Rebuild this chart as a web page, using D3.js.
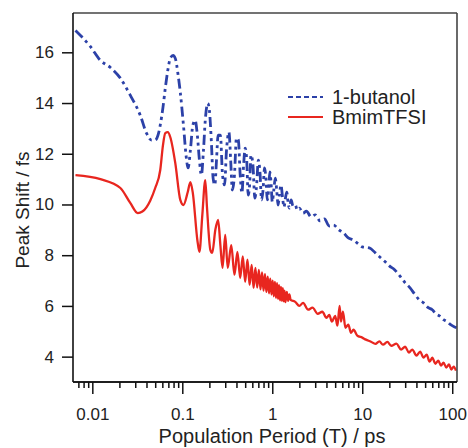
<!DOCTYPE html>
<html>
<head>
<meta charset="utf-8">
<script src="https://cdn.jsdelivr.net/npm/d3@7"></script>
<style>
  html, body { margin: 0; padding: 0; background: #fff; }
  svg { display: block; font-family: "Liberation Sans", Arial, sans-serif; }
</style>
</head>
<body>
<svg id="chart" width="468" height="448"></svg>
<script>
// ---- Data ----
const seriesNames = ["1-butanol", "BmimTFSI"];

const butanolT = [0.0065,0.0095,0.0123,0.0159,0.0205,0.0264,0.0341,0.040,0.0455,0.050,0.0545,0.0569,0.061,0.0647,0.069,0.0736,0.079,0.0836,0.090,0.095,0.103,0.110,0.116,0.123,0.131,0.139,0.147,0.155,0.163,0.172,0.180,0.192,0.20,0.21,0.22,0.23,0.24,0.25,0.265,0.28,0.295,0.31,0.33,0.345,0.36,0.38,0.40,0.42,0.44,0.46,0.48,0.50,0.52,0.54,0.56,0.58,0.61,0.64,0.67,0.70,0.73,0.76,0.79,0.82,0.85,0.88,0.91,0.94,0.97,1.00,1.04,1.08,1.12,1.16,1.20,1.25,1.30,1.35,1.40,1.45,1.50,1.55,1.62,1.70,1.80,1.9,2.0,2.2,2.4,2.7,3.0,3.4,3.8,4.3,4.8,5.5,6.2,7.0,8.0,9.0,10,12,14,16,18,20,23,26,30,34,38,43,48,54,60,66,72,80,88,96,105,112];
const butanolShift = [16.86,16.23,15.68,15.40,14.98,14.31,13.52,12.81,12.54,12.54,12.81,13.13,13.83,14.58,15.29,15.76,15.88,15.76,15.09,14.42,13.13,11.95,11.44,12.14,13.13,13.32,12.73,11.75,11.16,12.14,13.32,13.99,13.72,12.54,11.04,10.77,11.75,12.73,12.73,11.16,10.77,12.14,12.85,11.75,10.57,11.16,12.62,12.54,11.16,10.45,11.55,12.22,11.75,10.37,10.77,11.95,11.55,10.25,10.77,11.75,11.28,10.18,10.57,11.44,11.04,10.18,10.57,11.28,10.84,10.10,10.57,11.04,10.57,9.98,10.37,10.77,10.29,9.90,10.25,10.49,10.06,9.86,10.18,9.94,9.98,9.78,9.86,9.66,9.74,9.51,9.59,9.35,9.43,9.15,9.19,9.00,8.88,8.68,8.60,8.45,8.33,8.29,8.09,7.90,7.74,7.58,7.42,7.19,6.91,6.71,6.48,6.24,6.12,5.93,5.85,5.69,5.61,5.46,5.38,5.26,5.18,5.14];

const bmimT = [0.0065,0.0123,0.0205,0.0264,0.032,0.036,0.044,0.050,0.0569,0.061,0.0647,0.069,0.0736,0.0836,0.095,0.103,0.115,0.123,0.131,0.147,0.155,0.167,0.180,0.188,0.205,0.215,0.233,0.25,0.265,0.28,0.30,0.32,0.35,0.38,0.41,0.44,0.47,0.50,0.53,0.56,0.59,0.62,0.65,0.68,0.71,0.74,0.77,0.80,0.83,0.86,0.89,0.92,0.95,0.98,1.01,1.04,1.07,1.10,1.13,1.16,1.19,1.22,1.25,1.28,1.31,1.34,1.37,1.40,1.45,1.50,1.55,1.6,1.8,2.0,2.2,2.5,2.8,3.2,3.6,4.0,4.3,4.6,5.0,5.3,5.6,5.8,6.1,6.5,7.0,7.5,8.0,8.8,10,11,12.5,14,15.5,17,19,21,24,27,30,33,36,40,44,48,52,56,60,65,70,75,80,86,92,98,104,110];
const bmimShift = [11.16,11.00,10.65,10.06,9.66,9.72,10.15,10.65,11.36,12.34,12.81,12.85,12.65,11.63,10.18,9.98,10.49,10.88,10.45,8.60,8.13,9.59,10.96,9.90,8.21,8.09,9.00,9.39,8.40,7.50,8.80,7.50,8.40,7.23,8.13,7.10,7.95,6.95,7.82,6.83,7.62,6.71,7.50,6.72,7.42,6.65,7.32,6.60,7.25,6.55,7.15,6.50,7.08,6.45,7.00,6.38,6.95,6.32,6.90,6.28,6.82,6.22,6.75,6.20,6.70,6.18,6.60,6.15,6.55,6.20,6.45,6.24,6.16,6.00,6.12,5.85,5.93,5.69,5.77,5.53,5.65,5.38,5.61,5.22,6.00,5.38,5.77,5.14,5.26,4.94,5.06,4.83,4.75,4.67,4.59,4.50,4.60,4.47,4.58,4.43,4.51,4.28,4.39,4.16,4.28,4.04,4.20,3.96,4.08,3.80,3.96,3.72,3.84,3.65,3.76,3.57,3.69,3.49,3.61,3.45];

const yTicks = [4, 6, 8, 10, 12, 14, 16];
const xMajorTicks = [0.01, 0.1, 1, 10, 100];
const xTickLabels = ["0.01", "0.1", "1", "10", "100"];
const xLabel = "Population Period (T) / ps";
const yLabel = "Peak Shift / fs";

// ---- Layout ----
const svg = d3.select("#chart");
const L = 73, R = 457, T = 13, B = 382;

const x = d3.scaleLog().domain([0.0061, 113]).range([L, R]);
const y = d3.scaleLinear().domain([3.0, 17.55]).range([B, T]);

// minor ticks
const xMinor = [];
for (let e = -3; e <= 2; e++) {
  for (let m = 2; m <= 9; m++) {
    const v = m * Math.pow(10, e);
    if (v >= 0.0061 && v <= 113) xMinor.push(v);
  }
}

// clip
svg.append("defs").append("clipPath").attr("id", "clip")
  .append("rect").attr("x", L).attr("y", T).attr("width", R - L).attr("height", B - T);

// curves
const line = d3.line().x(d => x(d[0])).y(d => y(d[1])).curve(d3.curveMonotoneX);
const blueData = butanolT.map((t, i) => [t, butanolShift[i]]);
const redData = bmimT.map((t, i) => [t, bmimShift[i]]);

const g = svg.append("g").attr("clip-path", "url(#clip)");
g.append("path").datum(redData)
  .attr("d", line).attr("fill", "none")
  .attr("stroke", "#e8261f").attr("stroke-width", 2.3).attr("stroke-linejoin", "round");
g.append("path").datum(blueData)
  .attr("d", line).attr("fill", "none")
  .attr("stroke", "#2c41a8").attr("stroke-width", 2.8)
  .attr("stroke-dasharray", "10,4,3,4,3,4");

// frame (top & right)
svg.append("line").attr("x1", L).attr("x2", R).attr("y1", T).attr("y2", T)
  .attr("stroke", "#444").attr("stroke-width", 1.6);
svg.append("line").attr("x1", R).attr("x2", R).attr("y1", T).attr("y2", B)
  .attr("stroke", "#444").attr("stroke-width", 1.6);

// axes
const xMajorAxis = d3.axisBottom(x).tickValues(xMajorTicks).tickSize(12).tickPadding(14)
  .tickFormat((d, i) => xTickLabels[i]);
const xMinorAxis = d3.axisBottom(x).tickValues(xMinor).tickSize(6).tickFormat("");
const yAxis = d3.axisLeft(y).tickValues(yTicks).tickSize(11).tickPadding(8).tickFormat(d3.format("d"));

const gxm = svg.append("g").attr("transform", `translate(0,${B})`).call(xMinorAxis);
const gx = svg.append("g").attr("transform", `translate(0,${B})`).call(xMajorAxis);
const gy = svg.append("g").attr("transform", `translate(${L},0)`).call(yAxis);

[gxm, gx, gy].forEach(a => {
  a.select(".domain").attr("stroke", "#111").attr("stroke-width", 1.6);
  a.selectAll(".tick line").attr("stroke", "#111").attr("stroke-width", 1.5);
  a.selectAll(".tick text").attr("fill", "#222")
    .style("font-family", "'Liberation Sans', Arial, sans-serif").style("font-size", "17px");
});
gxm.select(".domain").attr("d", `M${L},0H${R}`);
gx.select(".domain").attr("d", `M${L},0H${R}`);
gy.select(".domain").attr("d", `M0,${T}V${B}`);

// axis labels
svg.append("text").attr("x", 272).attr("y", 443).attr("text-anchor", "middle")
  .attr("fill", "#222").style("font-size", "20px").text(xLabel);
svg.append("text").attr("transform", "translate(29,210) rotate(-90)")
  .attr("text-anchor", "middle").attr("fill", "#222").style("font-size", "19px").text(yLabel);

// legend
const legend = svg.append("g");
const legItems = [
  { name: seriesNames[0], color: "#2c41a8", dash: "5,3", w: 2.2, yy: 97 },
  { name: seriesNames[1], color: "#e8261f", dash: null, w: 1.8, yy: 117 }
];
legItems.forEach(it => {
  const ln = legend.append("line").attr("x1", 288).attr("x2", 323).attr("y1", it.yy).attr("y2", it.yy)
    .attr("stroke", it.color).attr("stroke-width", it.w);
  if (it.dash) ln.attr("stroke-dasharray", it.dash);
  legend.append("text").attr("x", 332).attr("y", it.yy).attr("dy", "0.36em")
    .attr("fill", "#222").style("font-size", "20px").text(it.name);
});
</script>
</body>
</html>
